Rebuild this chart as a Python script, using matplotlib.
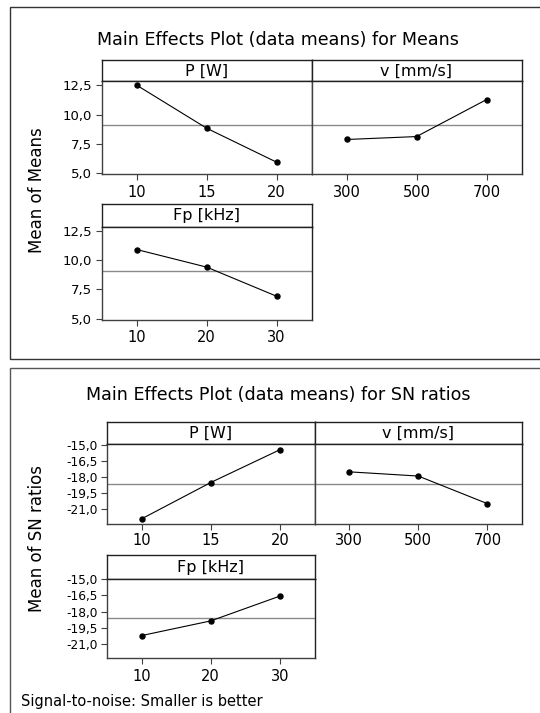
import matplotlib
matplotlib.use("Agg")
import matplotlib.pyplot as plt
from matplotlib.patches import Rectangle
from matplotlib.ticker import FixedLocator, FuncFormatter

plt.rcParams['font.family'] = ['DejaVu Sans']

# ---------------- data ----------------
factors = ["P [W]", "v [mm/s]", "Fp [kHz]"]
levels_P = ["10", "15", "20"]
levels_v = ["300", "500", "700"]
levels_Fp = ["10", "20", "30"]

means_P = [12.50, 8.83, 5.93]
means_v = [7.87, 8.12, 11.28]
means_Fp = [10.93, 9.42, 6.92]
grand_mean_means = 9.08
yticks_means = [5.0, 7.5, 10.0, 12.5]

sn_P = [-21.87, -18.50, -15.46]
sn_v = [-17.51, -17.90, -20.46]
sn_Fp = [-20.22, -18.86, -16.56]
grand_mean_sn = -18.62
yticks_sn = [-21.0, -19.5, -18.0, -16.5, -15.0]

title_means = "Main Effects Plot (data means) for Means"
title_sn = "Main Effects Plot (data means) for SN ratios"
ylabel_means = "Mean of Means"
ylabel_sn = "Mean of SN ratios"
footnote = "Signal-to-noise: Smaller is better"

# ---------------- layout helpers ----------------
W, H = 540, 713
fig = plt.figure(figsize=(W / 100, H / 100), dpi=100)

def add_px(x0, y0, x1, y1):
    return fig.add_axes([x0 / W, 1 - y1 / H, (x1 - x0) / W, (y1 - y0) / H])

comma_fmt = FuncFormatter(lambda v, p: f"{v:.1f}".replace(".", ","))
SPINE = "#404040"
MEANC = "#8a8a8a"

def panel(x0, x1, ys0, ys1, yd1, label, levels, values, gmean, yticks, ylim,
          show_y, ytick_fs, xpad):
    # strip
    s = add_px(x0, ys0, x1, ys1)
    s.set_xticks([]); s.set_yticks([])
    for sp in s.spines.values():
        sp.set_color("#202020"); sp.set_linewidth(1.0)
    s.text(0.5, 0.47, label, ha="center", va="center", fontsize=11.5,
           transform=s.transAxes)
    # data area
    a = add_px(x0, ys1, x1, yd1)
    for name, sp in a.spines.items():
        sp.set_linewidth(1.0)
        sp.set_color("#202020" if name in ("top", "right") else SPINE)
    xs = list(range(1, len(values) + 1))
    a.axhline(gmean, color=MEANC, lw=1.0, zorder=1)
    a.plot(xs, values, color="black", lw=0.8, marker="o", ms=3.6, zorder=3)
    a.set_xlim(0.5, 3.5)
    a.set_ylim(*ylim)
    a.set_xticks(xs)
    a.set_xticklabels(levels, fontsize=10.5)
    a.tick_params(axis="x", direction="out", length=4, width=0.8,
                  color=SPINE, pad=xpad)
    if show_y:
        a.yaxis.set_major_locator(FixedLocator(yticks))
        a.yaxis.set_major_formatter(comma_fmt)
        a.tick_params(axis="y", direction="out", length=4, width=0.8,
                      color=SPINE, pad=3, labelsize=ytick_fs)
    else:
        a.set_yticks([])
    return a

# ---------------- top section: Means ----------------
ylim_means = (4.92, 12.87)
panel(102, 311.5, 60, 81, 174, factors[0], levels_P, means_P,
      grand_mean_means, yticks_means, ylim_means, True, 9.5, 3.8)
panel(311.5, 521.5, 60, 81, 174, factors[1], levels_v, means_v,
      grand_mean_means, yticks_means, ylim_means, False, 9.5, 3.8)
panel(102, 311.5, 203.5, 227, 319.5, factors[2], levels_Fp, means_Fp,
      grand_mean_means, yticks_means, ylim_means, True, 9.5, 3.8)

fig.text(278 / W, 1 - 40 / H, title_means, ha="center", va="center",
         fontsize=12.6)
fig.text(37 / W, 1 - 190 / H, ylabel_means, ha="center", va="center",
         rotation=90, fontsize=12)

# ---------------- bottom section: SN ratios ----------------
ylim_sn = (-22.3, -14.93)
panel(107, 314.5, 421.5, 444, 523.5, factors[0], levels_P, sn_P,
      grand_mean_sn, yticks_sn, ylim_sn, True, 8.7, 3.0)
panel(314.5, 522, 421.5, 444, 523.5, factors[1], levels_v, sn_v,
      grand_mean_sn, yticks_sn, ylim_sn, False, 8.7, 3.0)
panel(107, 314.5, 555, 578.5, 658, factors[2], levels_Fp, sn_Fp,
      grand_mean_sn, yticks_sn, ylim_sn, True, 8.7, 3.8)

fig.text(278 / W, 1 - 395 / H, title_sn, ha="center", va="center",
         fontsize=12.6)
fig.text(37 / W, 1 - 539 / H, ylabel_sn, ha="center", va="center",
         rotation=90, fontsize=12)
fig.text(21 / W, 1 - 701.5 / H, footnote, ha="left", va="center",
         fontsize=10.5)

# ---------------- outer frames ----------------
fig.add_artist(Rectangle((9.5 / W, 1 - 358.5 / H), 600 / W, 351.5 / H,
                         transform=fig.transFigure, fill=False,
                         edgecolor="#333333", lw=1.0))
fig.add_artist(Rectangle((9.5 / W, 1 - 760 / H), 600 / W, (760 - 367.5) / H,
                         transform=fig.transFigure, fill=False,
                         edgecolor="#555555", lw=1.0))

fig.savefig("out.png", dpi=100)
